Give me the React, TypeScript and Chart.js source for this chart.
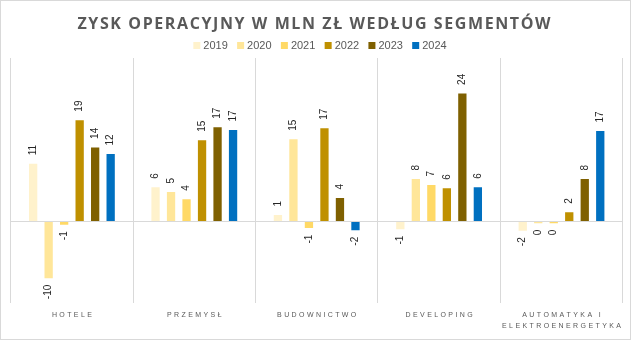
import React, { useEffect, useRef } from 'react';
import { Chart, registerables } from 'chart.js';

Chart.register(...registerables);

const titleText = 'ZYSK OPERACYJNY W MLN ZŁ WEDŁUG SEGMENTÓW';
const categories = ['HOTELE', 'PRZEMYSŁ', 'BUDOWNICTWO', 'DEVELOPING', 'AUTOMATYKA I|ELEKTROENERGETYKA'];
const years = ['2019', '2020', '2021', '2022', '2023', '2024'];
const v2019 = [10.6, 6.3, 1.2, -1.4, -1.7];
const v2020 = [-10.4, 5.4, 15.1, 7.8, -0.3];
const v2021 = [-0.6, 4.1, -1.2, 6.7, -0.3];
const v2022 = [18.6, 14.9, 17.1, 6.1, 1.7];
const v2023 = [13.6, 17.3, 4.3, 23.5, 7.8];
const v2024 = [12.4, 16.8, -1.6, 6.3, 16.6];
const colors = ['#FFF2CC', '#FFE699', '#FFD966', '#BF9000', '#7F6000', '#0070C0'];
const yMin = -15;
const yMax = 30;

function drawSpaced(ctx: CanvasRenderingContext2D, text: string, cx: number, y: number, spacing: number) {
  const chars = Array.from(text);
  const widths = chars.map((c) => ctx.measureText(c).width);
  const total = widths.reduce((a, b) => a + b, 0) + spacing * (chars.length - 1);
  let x = cx - total / 2;
  ctx.textAlign = 'left';
  chars.forEach((c, i) => {
    ctx.fillText(c, x, y);
    x += widths[i] + spacing;
  });
}

const decorPlugin = {
  id: 'decor',
  afterDraw(chart: any) {
    const ctx: CanvasRenderingContext2D = chart.ctx;
    ctx.save();
    // border
    ctx.strokeStyle = '#d9d9d9';
    ctx.lineWidth = 1;
    ctx.strokeRect(0.5, 0.5, 630, 339);

    // title
    ctx.fillStyle = '#595959';
    ctx.font = 'bold 16px "Open Sans"';
    ctx.textBaseline = 'alphabetic';
    const chars = Array.from(titleText);
    const sum = chars.reduce((a, c) => a + ctx.measureText(c).width, 0);
    const spacing = (473 - sum) / (chars.length - 1);
    drawSpaced(ctx, titleText, 314, 28.5, spacing);

    // legend
    ctx.font = '11px "Liberation Sans"';
    const gap = 9.3;
    const items = chart.data.datasets.map((d: any) => ({
      label: d.label,
      color: d.backgroundColor,
      w: ctx.measureText(d.label).width,
    }));
    const total = items.reduce((a: number, it: any) => a + 10 + it.w, 0) + gap * (items.length - 1);
    let x = 320 - total / 2;
    items.forEach((it: any) => {
      ctx.fillStyle = it.color;
      ctx.fillRect(x, 42, 7, 7);
      ctx.fillStyle = '#595959';
      ctx.textAlign = 'left';
      ctx.fillText(it.label, x + 10, 49);
      x += 10 + it.w + gap;
    });

    // category labels
    const xs = chart.scales.x;
    ctx.font = '7px "Liberation Sans"';
    ctx.fillStyle = '#595959';
    ctx.textBaseline = 'middle';
    categories.forEach((cat, i) => {
      const cx = xs.getPixelForValue(i);
      cat.split('|').forEach((line, j) => {
        drawSpaced(ctx, line, cx, chart.chartArea.bottom + 12.2 + j * 10.5, 2.4);
      });
    });
    ctx.restore();
  },
  afterDatasetsDraw(chart: any) {
    const ctx: CanvasRenderingContext2D = chart.ctx;
    ctx.save();
    ctx.font = '10px "Liberation Sans"';
    ctx.fillStyle = '#262626';
    ctx.textBaseline = 'middle';
    chart.data.datasets.forEach((ds: any, di: number) => {
      const meta = chart.getDatasetMeta(di);
      meta.data.forEach((el: any, i: number) => {
        const v = ds.data[i];
        const label = String(Math.round(v) === 0 ? 0 : Math.round(v));
        ctx.save();
        if (v >= 0) {
          ctx.translate(el.x, el.y - 8.5);
          ctx.rotate(-Math.PI / 2);
          ctx.textAlign = 'left';
        } else {
          ctx.translate(el.x, el.y + 6.5);
          ctx.rotate(-Math.PI / 2);
          ctx.textAlign = 'right';
        }
        ctx.fillText(label, 0, 0);
        ctx.restore();
      });
    });
    ctx.restore();
  },
};

export default function App() {
  const ref = useRef<HTMLCanvasElement>(null);
  useEffect(() => {
    if (!ref.current) return;
    const series = [v2019, v2020, v2021, v2022, v2023, v2024];
    const chart = new Chart(ref.current, {
      type: 'bar',
      data: {
        labels: categories.map((c) => c.replace('|', ' ')),
        datasets: years.map((y, i) => ({
          label: y,
          data: series[i],
          backgroundColor: colors[i],
          borderWidth: 0,
          barPercentage: 0.535,
          categoryPercentage: 0.76,
        })),
      },
      options: {
        responsive: false,
        animation: false,
        devicePixelRatio: 1,
        layout: { padding: { left: 10.7, right: 9.3, top: 58, bottom: 37.7 } },
        plugins: {
          legend: { display: false },
          title: { display: false },
          tooltip: { enabled: false },
        },
        scales: {
          x: {
            display: true,
            ticks: { display: false },
            grid: { color: '#d9d9d9', drawTicks: false, offset: true, lineWidth: 1 },
            border: { display: false },
          },
          y: {
            display: true,
            min: yMin,
            max: yMax,
            ticks: { display: false, stepSize: 15 },
            grid: {
              drawTicks: false,
              color: (c: any) => (c.tick && c.tick.value === 0 ? '#d9d9d9' : 'rgba(0,0,0,0)'),
            },
            border: { display: false },
          },
        },
      },
      plugins: [decorPlugin],
    });
    return () => chart.destroy();
  }, []);
  return (
    <div style={{ position: 'fixed', left: 0, top: 0, width: 632, height: 341, background: '#fff' }}>
      <canvas ref={ref} width={632} height={341} />
    </div>
  );
}
